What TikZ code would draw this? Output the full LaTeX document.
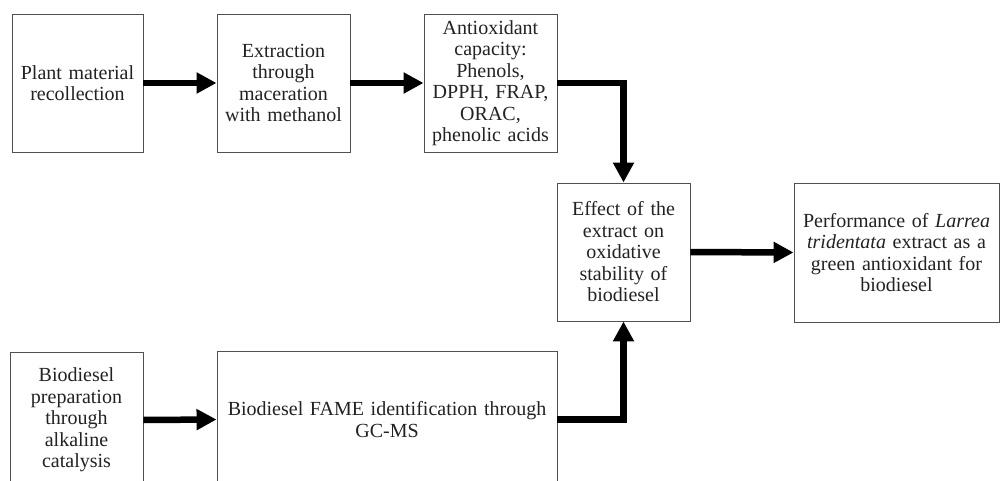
\documentclass[tikz,border=0pt]{standalone}
\usepackage{fontspec}
\setmainfont{Liberation Serif}
\usetikzlibrary{arrows.meta}
\definecolor{boxgray}{HTML}{505050}
\definecolor{txt}{HTML}{222222}
\begin{document}
\begin{tikzpicture}[x=1pt,y=-1pt,
  box/.style={draw=boxgray, line width=0.9pt, inner sep=0pt, align=center,
    text=txt, font=\fontsize{20}{21.5}\selectfont},
  flow/.style={line width=6.5pt, line join=miter,
    -{Triangle[length=20pt,width=20pt]}}]
\useasboundingbox (0,0) rectangle (1000,481);
\clip (0,0) rectangle (1000,481);
\fill[white] (0,0) rectangle (1000,481);
\node[box, minimum width=131pt, minimum height=138pt, text width=129pt] (b1) at (77.5,83)
  {Plant material\\recollection};
\node[box, minimum width=133pt, minimum height=138pt, text width=131pt] (b2) at (283.5,83)
  {Extraction\\through\\maceration\\with methanol};
\node[box, minimum width=133pt, minimum height=138pt, text width=131pt] (b3) at (490.5,83)
  {Antioxidant\\capacity:\\Phenols,\\DPPH, FRAP,\\ORAC,\\phenolic acids};
\node[box, minimum width=133pt, minimum height=138pt, text width=131pt] (b4) at (623.5,252)
  {Effect of the\\extract on\\oxidative\\stability of\\biodiesel};
\node[box, minimum width=205pt, minimum height=139pt, text width=203pt] (b5) at (896.5,252.5)
  {Performance of \textit{Larrea}\\\textit{tridentata} extract as a\\green antioxidant for\\biodiesel};
\node[box, minimum width=133pt, minimum height=136pt, text width=131pt] (b6) at (76.5,420)
  {Biodiesel\\preparation\\through\\alkaline\\catalysis};
\node[box, minimum width=340pt, minimum height=137pt, text width=338pt] (b7) at (387,419.5)
  {Biodiesel FAME identification through\\GC-MS};
\draw[flow] (b1.east) -- (b2.west);
\draw[flow] (b2.east) -- (b3.west);
\draw[flow] (b3.east) -| (b4.north);
\draw[flow] (b4.east) -- (b5.west);
\draw[flow] (b6.east) -- (b7.west);
\draw[flow] (b7.east) -| (b4.south);
\end{tikzpicture}
\end{document}
